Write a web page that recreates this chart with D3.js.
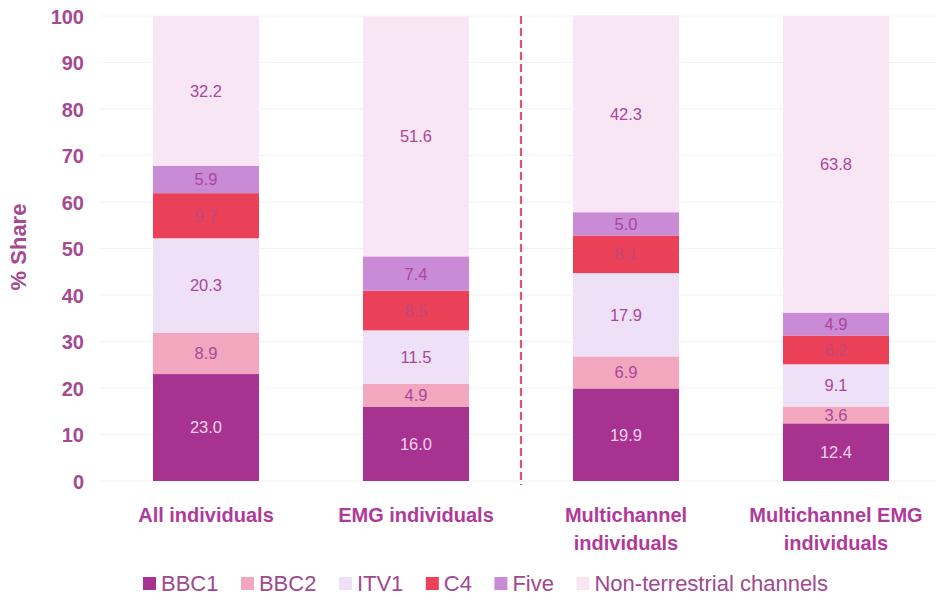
<!DOCTYPE html>
<html><head><meta charset="utf-8">
<script src="https://cdn.jsdelivr.net/npm/d3@7"></script>
<style>body{margin:0;background:#fff;} svg{display:block;font-family:"Liberation Sans",Arial,sans-serif;}</style>
</head><body>
<svg id="c" width="936" height="600"></svg>
<script>
const categories = [["All individuals"],["EMG individuals"],["Multichannel","individuals"],["Multichannel EMG","individuals"]];
const seriesNames = ["BBC1","BBC2","ITV1","C4","Five","Non-terrestrial channels"];
const BBC1 = [23.0,16.0,19.9,12.4];
const BBC2 = [8.9,4.9,6.9,3.6];
const ITV1 = [20.3,11.5,17.9,9.1];
const C4 = [9.7,8.5,8.1,6.2];
const Five = [5.9,7.4,5.0,4.9];
const NonTerrestrial = [32.2,51.6,42.3,63.8];
const yTicks = [0,10,20,30,40,50,60,70,80,90,100];

const seriesValues = [BBC1,BBC2,ITV1,C4,Five,NonTerrestrial];
const colors = ["#a8328f","#f2a7bf","#eee0f6","#ea4159","#c98ad6","#f9e6f4"];
const labelColors = ["#f6d4ec","#a9479a","#a9479a","#c2477a","#a9479a","#a9479a"];

const svg = d3.select("#c");
const y = d3.scaleLinear().domain([0,100]).range([481,16]);
const x = d3.scaleBand().domain(d3.range(categories.length)).range([101,941]).paddingInner(0.495).paddingOuter(0.2475);

// faint gridlines
svg.append("g").selectAll("line").data(yTicks).join("line")
  .attr("x1",100).attr("x2",936).attr("y1",d=>y(d)).attr("y2",d=>y(d))
  .attr("stroke","#f4f2f4").attr("stroke-width",1);

// y axis
const yAxis = d3.axisLeft(y).tickValues(yTicks).tickSize(0).tickPadding(0);
const ga = svg.append("g").attr("transform","translate(84,0)").call(yAxis);
ga.select(".domain").remove();
ga.selectAll("text").attr("fill","#a54a92").style("font-size","20px").style("font-weight","bold").attr("dy","0.36em");

svg.append("text").attr("transform","translate(26,247) rotate(-90)").attr("text-anchor","middle")
  .attr("fill","#a54a92").style("font-size","22px").style("font-weight","bold").text("% Share");

// stacks
const data = categories.map((c,i)=>{const o={i}; seriesNames.forEach((s,k)=>o[s]=seriesValues[k][i]); return o;});
const stack = d3.stack().keys(seriesNames)(data);
stack.forEach((layer,k)=>{
  const g = svg.append("g");
  g.selectAll("rect").data(layer).join("rect")
    .attr("x",d=>x(d.data.i)).attr("width",x.bandwidth())
    .attr("y",d=>y(d[1])).attr("height",d=>y(d[0])-y(d[1]))
    .attr("fill",colors[k]);
  g.selectAll("text").data(layer).join("text")
    .attr("x",d=>x(d.data.i)+x.bandwidth()/2).attr("y",d=>y((d[0]+d[1])/2)).attr("dy","0.36em")
    .attr("text-anchor","middle").attr("fill",labelColors[k]).style("font-size","16.5px")
    .text(d=>(d[1]-d[0]).toFixed(1));
});

// dashed divider
const xd = (x(1)+x.bandwidth()+x(2))/2;
svg.append("line").attr("x1",xd).attr("x2",xd).attr("y1",y(100)).attr("y2",485)
  .attr("stroke","#e2536f").attr("stroke-width",2.2).attr("stroke-dasharray","8,4");

// category labels
categories.forEach((lines,i)=>{
  const t = svg.append("text").attr("text-anchor","middle").attr("fill","#b03a9a")
    .style("font-size","20px").style("font-weight","bold");
  lines.forEach((l,j)=>t.append("tspan").attr("x",x(i)+x.bandwidth()/2).attr("y",522+j*28).text(l));
});

// legend: laid out sequentially from 143 to 828
const lg = svg.append("g");
const items = seriesNames.map((s,k)=>{
  const r = lg.append("rect").attr("y",577).attr("width",13).attr("height",13).attr("fill",colors[k]);
  const t = lg.append("text").attr("y",591).attr("fill","#a04890").style("font-size","22px").text(s);
  return {r,t,w:t.node().getComputedTextLength()};
});
const sq=13, g1=5, startX=143, endX=828;
const total = items.reduce((a,it)=>a+sq+g1+it.w,0);
const gap = (endX-startX-total)/(items.length-1);
let cx = startX;
items.forEach(it=>{ it.r.attr("x",cx); it.t.attr("x",cx+sq+g1); cx += sq+g1+it.w+gap; });
</script>
</body></html>
